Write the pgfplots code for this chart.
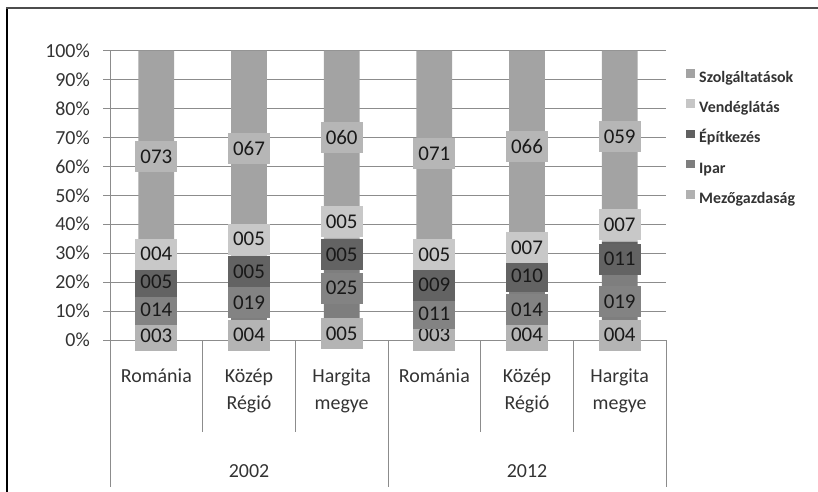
\documentclass[border=0pt]{standalone}
\usepackage{fontspec}
\setmainfont{Carlito}
\usepackage{pgfplots}
\pgfplotsset{compat=1.18}

% bar colours
\definecolor{szolg}{HTML}{A3A3A3}
\definecolor{vend}{HTML}{C6C6C6}
\definecolor{epit}{HTML}{606060}
\definecolor{ipar}{HTML}{7E7E7E}
\definecolor{mezo}{HTML}{B1B1B1}
% label box colours
\definecolor{szolgl}{HTML}{B6B6B6}
\definecolor{vendl}{HTML}{C8C8C8}
\definecolor{epitl}{HTML}{636363}
\definecolor{iparl}{HTML}{838383}
\definecolor{mezol}{HTML}{B4B4B4}
\definecolor{gridc}{HTML}{8C8C8C}

\newcommand{\ax}{\fontsize{20}{27}\selectfont}
\newcommand{\dl}{\fontsize{21}{24}\selectfont}

\begin{document}
\begin{tikzpicture}
\useasboundingbox (0bp,0bp) rectangle (818bp,492bp);
\draw[black, line width=2bp] (7.3bp,0bp) -- (7.3bp,483.7bp);
\draw[black!70, line width=2bp] (6.3bp,483.7bp) -- (818bp,483.7bp);

\begin{axis}[
    at={(110bp,152bp)}, anchor=south west,
    scale only axis, width=556bp, height=289.3bp,
    ybar stacked, bar width=35.7bp,
    xmin=-0.5, xmax=5.5, ymin=0, ymax=100,
    clip=false,
    ytick={0,10,...,100},
    yticklabels={0\%,10\%,20\%,30\%,40\%,50\%,60\%,70\%,80\%,90\%,100\%},
    yticklabel style={font=\ax, text=black!80, anchor=east, inner sep=0pt, xshift=-13bp},
    xtick={0,1,2,3,4,5},
    xticklabels={\strut Románia, \strut Közép\\Régió, \strut Hargita\\megye,
                 \strut Románia, \strut Közép\\Régió, \strut Hargita\\megye},
    xticklabel style={font=\ax, text=black!80, align=center, anchor=north, inner sep=0pt, yshift=-16.8bp},
    xtick style={draw=none},
    extra x ticks={1,4},
    extra x tick labels={\strut 2002, \strut 2012},
    extra x tick style={major tick length=0pt, xticklabel style={yshift=-101.7bp}},
    axis x line*=bottom, axis y line*=left,
    axis line style={gridc, line width=1bp, -},
    ymajorgrids, grid style={gridc, line width=1bp},
    ytick style={gridc, line width=1bp},
    tick align=outside, major tick length=7bp,
    reverse legend,
    legend cell align=left,
    legend image code/.code={\fill[#1, draw=none] (0bp,0.5bp) rectangle (8.5bp,9bp); \path (13bp,0bp);},
    legend style={at={(1.036,0.9367)}, anchor=north west, draw=none, fill=none,
        inner sep=0pt, row sep=13.5bp,
        font=\bfseries\fontsize{16}{19}\selectfont, text=black!80,
        nodes={inner sep=0pt, text height=12bp, text depth=3.5bp}},
]
% Mezőgazdaság
\addplot[fill=mezo, draw=none] coordinates {(0,3.2) (1,4) (2,5) (3,3.2) (4,3.8) (5,4)};
\addlegendentry{Mezőgazdaság}
% Ipar
\addplot[fill=ipar, draw=none] coordinates {(0,14.2) (1,19) (2,25) (3,11.2) (4,13.8) (5,19)};
\addlegendentry{Ipar}
% Építkezés
\addplot[fill=epit, draw=none] coordinates {(0,5.2) (1,5) (2,5) (3,9.2) (4,9.8) (5,11)};
\addlegendentry{Építkezés}
% Vendéglátás
\addplot[fill=vend, draw=none] coordinates {(0,4.2) (1,5) (2,5) (3,5.2) (4,6.8) (5,7)};
\addlegendentry{Vendéglátás}
% Szolgáltatások
\addplot[fill=szolg, draw=none] coordinates {(0,73.2) (1,67) (2,60) (3,71.2) (4,65.8) (5,59)};
\addlegendentry{Szolgáltatások}

% category separators below the axis
\pgfplotsinvokeforeach{0.5,1.5,3.5,4.5}{
  \draw[gridc, line width=1bp] (axis cs:#1,0) -- ++(0bp,-92bp);
}
\pgfplotsinvokeforeach{-0.5,2.5,5.5}{
  \draw[gridc, line width=1bp] (axis cs:#1,0) -- ++(0bp,-147bp);
}
\end{axis}

% data labels, at the positions
\begin{axis}[
    at={(110bp,152bp)}, anchor=south west,
    scale only axis, width=556bp, height=289.3bp,
    xmin=-0.5, xmax=5.5, ymin=0, ymax=100,
    hide axis, clip=false,
    nodes near coords, point meta=explicit symbolic,
    nodes near coords style={anchor=center, font=\dl, text=black!90, inner sep=0pt,
        minimum width=42bp, minimum height=31bp},
]
\addplot[draw=none, no markers, nodes near coords style={fill=mezol}] coordinates {
  (0,1.4)[003] (1,1.7)[004] (2,2.3)[005] (3,1.7)[003] (4,1.7)[004] (5,1.7)[004]};
\addplot[draw=none, no markers, nodes near coords style={fill=iparl}] coordinates {
  (0,10.4)[014] (1,13.0)[019] (2,17.9)[025] (3,9.0)[011] (4,10.6)[014] (5,13.2)[019]};
\addplot[draw=none, no markers, nodes near coords style={fill=epitl}] coordinates {
  (0,20.2)[005] (1,23.6)[005] (2,29.4)[005] (3,19.0)[009] (4,22.1)[010] (5,27.9)[011]};
\addplot[draw=none, no markers, nodes near coords style={fill=vendl}] coordinates {
  (0,29.7)[004] (1,34.9)[005] (2,40.9)[005] (3,29.6)[005] (4,32.0)[007] (5,39.8)[007]};
\addplot[draw=none, no markers, nodes near coords style={fill=szolgl}] coordinates {
  (0,63.4)[073] (1,66.3)[067] (2,70.1)[060] (3,64.3)[071] (4,66.8)[066] (5,70.3)[059]};
\end{axis}
\end{tikzpicture}
\end{document}
